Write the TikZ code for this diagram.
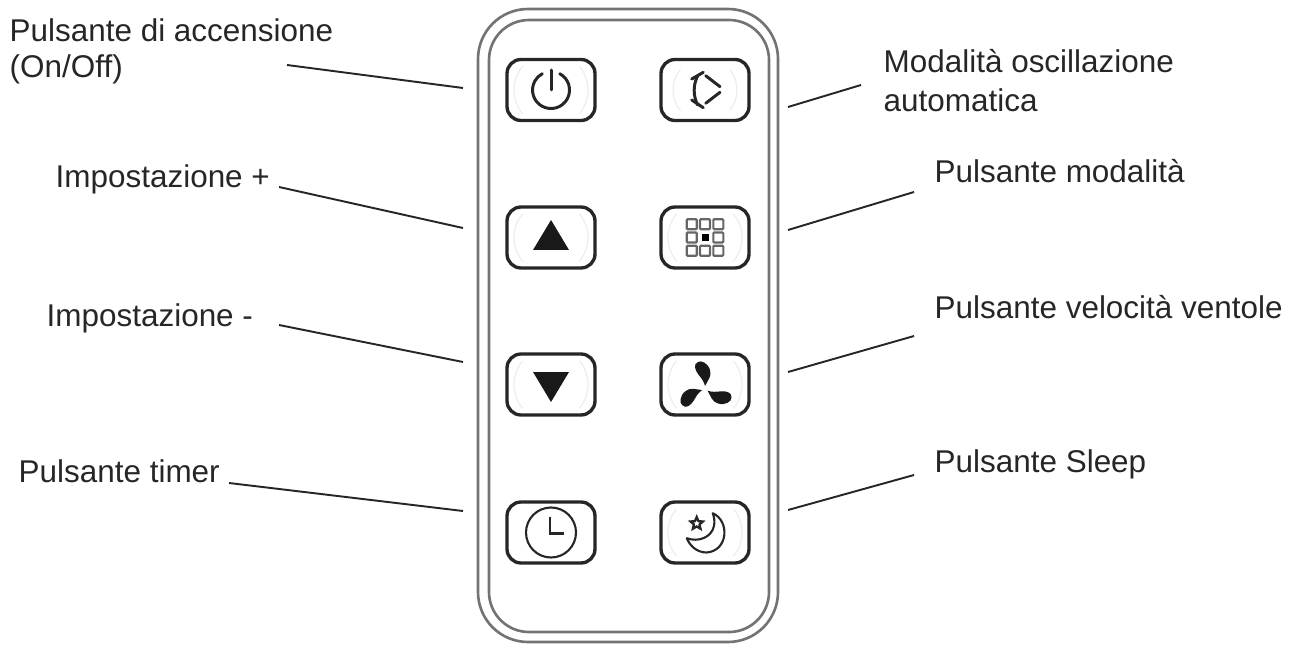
\documentclass[tikz,border=0pt]{standalone}
\usepackage{fontspec}
\setmainfont{Liberation Sans}
\usetikzlibrary{shapes.geometric}
\newcommand{\keyrings}[2]{
      \draw [halo] ([shift = {(-#2, 0)}]#1.center) arc (180:140:#2);
      \draw [halo] ([shift = {(-#2, 0)}]#1.center) arc (180:220:#2);
      \draw [halo] ([shift = {(#2, 0)}]#1.center) arc (0:40:#2);
      \draw [halo] ([shift = {(#2, 0)}]#1.center) arc (0:-40:#2);
}

\begin{document}
\begin{tikzpicture}[x = 0.02cm, y = -0.02cm, line width = 0.8pt,
                        shell/.style = {draw = black!55, line width = 1.5pt},
                        key/.style = {rectangle, draw = black!85, line width = 1.9pt, rounded corners = 0.28cm, minimum width = 1.76cm, minimum height = 1.22cm},
                        halo/.style = {draw = black!7, line width = 0.7pt},
                        glyph/.style = {draw = black!85, line width = 1.7pt, line cap = round},
                        txt/.style = {anchor = base west, inner sep = 0pt, text = black!85, font = \fontsize{17.9}{20}\selectfont},
                        lead/.style = {draw = black!85, line width = 1.1pt}]
      \useasboundingbox (0, 0) rectangle (1290, 648);

      % body of the remote
      \draw [shell, rounded corners = 1cm] (478, 9) rectangle (778, 642);
      \draw [shell, rounded corners = 0.8cm] (489, 20) rectangle (769, 632);

      % keys
      \node [key] (power) at (551, 90){};
      \node [key] (swing) at (705, 90){};
      \node [key] (plus) at (551, 237.5){};
      \node [key] (mode) at (705, 237.5){};
      \node [key] (minus) at (551, 384.5){};
      \node [key] (fan) at (705, 384.5){};
      \node [key] (timer) at (551, 532.5){};
      \node [key] (sleep) at (705, 532.5){};

      % faint rings behind the icons
      \keyrings{power}{37}
      \keyrings{swing}{32}
      \keyrings{plus}{37}
      \keyrings{mode}{37}
      \keyrings{minus}{37}
      \keyrings{fan}{37}
      \keyrings{sleep}{37}

      % power
      \begin{scope}[shift = {(power.center)}]
        \draw [glyph] (8.7, -16.3) arc (-62:242:18.5);
        \draw [glyph] (0, -20) -- (0, 0);
      \end{scope}

      % swing
      \begin{scope}[shift = {(swing.center)}]
        \draw [glyph] (-13.3, -11) -- (-1.7, -17.7);
        \draw [glyph] (-13.3, 10) -- (-1.7, 17.7);
        \draw [glyph] (-7.3, -14.3) .. controls (-12, -5) and (-12, 6) .. (-7.3, 15);
        \draw [glyph] (0.7, -14.3) -- (15, -3.3);
        \draw [glyph] (15, 2.3) -- (0.7, 13.3);
      \end{scope}

      % up and down
      \fill [black!90] (551, 220) -- (569, 250) -- (533, 250) -- cycle;
      \fill [black!90] (533, 372) -- (569, 372) -- (551, 402) -- cycle;

      % mode
      \begin{scope}[shift = {(mode.center)}]
        \draw [draw = black!60, line width = 1.2pt, rounded corners = 0.5pt]
          (-18.3, -18.3) rectangle (-8.3, -8.3) (-5, -18.3) rectangle (5, -8.3) (8.3, -18.3) rectangle (18.3, -8.3)
          (-18.3, -5) rectangle (-8.3, 5) (8.3, -5) rectangle (18.3, 5)
          (-18.3, 8.3) rectangle (-8.3, 18.3) (-5, 8.3) rectangle (5, 18.3) (8.3, 8.3) rectangle (18.3, 18.3);
        \fill [black] (-3.5, -3.5) rectangle (3.5, 3.5);
      \end{scope}

      % fan
      \begin{scope}[shift = {(705, 389)}]
        \fill [black!90] (0, -3) .. controls (3, -9) and (7, -13) .. (5, -19) .. controls (3, -26) and (-4, -29) .. (-7, -27) .. controls (-12, -25) and (-10, -19) .. (-7, -15) .. controls (-4, -11) and (-1, -8) .. (0, -3);
        \fill [black!90, rotate = 111] (0, -3) .. controls (3, -9) and (7, -13) .. (5, -19) .. controls (3, -26) and (-4, -29) .. (-7, -27) .. controls (-12, -25) and (-10, -19) .. (-7, -15) .. controls (-4, -11) and (-1, -8) .. (0, -3);
        \fill [black!90, rotate = -123] (0, -3) .. controls (3, -9) and (7, -13) .. (5, -19) .. controls (3, -26) and (-4, -29) .. (-7, -27) .. controls (-12, -25) and (-10, -19) .. (-7, -15) .. controls (-4, -11) and (-1, -8) .. (0, -3);
      \end{scope}

      % clock
      \begin{scope}[shift = {(timer.center)}]
        \draw [glyph, line width = 1.2pt] (0, 0) circle (25);
        \draw [glyph, line width = 1.5pt, line cap = butt] (-1, -16) -- (-1, 1) -- (13, 1);
      \end{scope}

      % moon and star
      \begin{scope}[shift = {(sleep.center)}]
        \draw [glyph, line width = 1.2pt, line join = round] (7.7, -19.3) .. controls (25, -11.7) and (23.3, 18.3) .. (1.7, 20) .. controls (-8.3, 20) and (-15, 13.3) .. (-18.3, 5.7) .. controls (-6.7, 10) and (6.7, 5) .. (9, -6.7) .. controls (10, -11.7) and (9, -15.7) .. (7.7, -19.3) -- cycle;
        \node [star, star points = 5, star point ratio = 2.2, draw = black!85, line width = 1.3pt, inner sep = 0pt, minimum size = 0.26cm] (moonstar) at (-8.3, -9){};
      \end{scope}

      % labels
      \node [txt] (powertext) at (9, 41.5) {Pulsante di accensione};
      \node [txt] (powertexttwo) at (9, 78) {(On/Off)};
      \node [txt] (plustext) at (55, 188) {Impostazione +};
      \node [txt] (minustext) at (46, 326) {Impostazione -};
      \node [txt] (timertext) at (18, 482) {Pulsante timer};
      \node [txt] (swingtext) at (883, 72.5) {Modalità oscillazione};
      \node [txt] (swingtexttwo) at (883, 112) {automatica};
      \node [txt] (modetext) at (934, 183) {Pulsante modalità};
      \node [txt] (fantext) at (934, 318) {Pulsante velocità ventole};
      \node [txt] (sleeptext) at (934, 472) {Pulsante Sleep};

      % leader lines
      \coordinate (powerfrom) at (287, 65);
      \coordinate (powerto) at (463, 88);
      \coordinate (plusfrom) at (279, 187);
      \coordinate (plusto) at (463, 228);
      \coordinate (minusfrom) at (279, 325);
      \coordinate (minusto) at (463, 362);
      \coordinate (timerfrom) at (229, 483);
      \coordinate (timerto) at (463, 511);
      \coordinate (swingfrom) at (861, 85);
      \coordinate (swingto) at (788, 107);
      \coordinate (modefrom) at (914, 192);
      \coordinate (modeto) at (788, 230);
      \coordinate (fanfrom) at (914, 336);
      \coordinate (fanto) at (788, 372);
      \coordinate (sleepfrom) at (914, 475);
      \coordinate (sleepto) at (788, 510);

      \draw [lead] (powerfrom) -- (powerto);
      \draw [lead] (plusfrom) -- (plusto);
      \draw [lead] (minusfrom) -- (minusto);
      \draw [lead] (timerfrom) -- (timerto);
      \draw [lead] (swingfrom) -- (swingto);
      \draw [lead] (modefrom) -- (modeto);
      \draw [lead] (fanfrom) -- (fanto);
      \draw [lead] (sleepfrom) -- (sleepto);
\end{tikzpicture}
\end{document}
